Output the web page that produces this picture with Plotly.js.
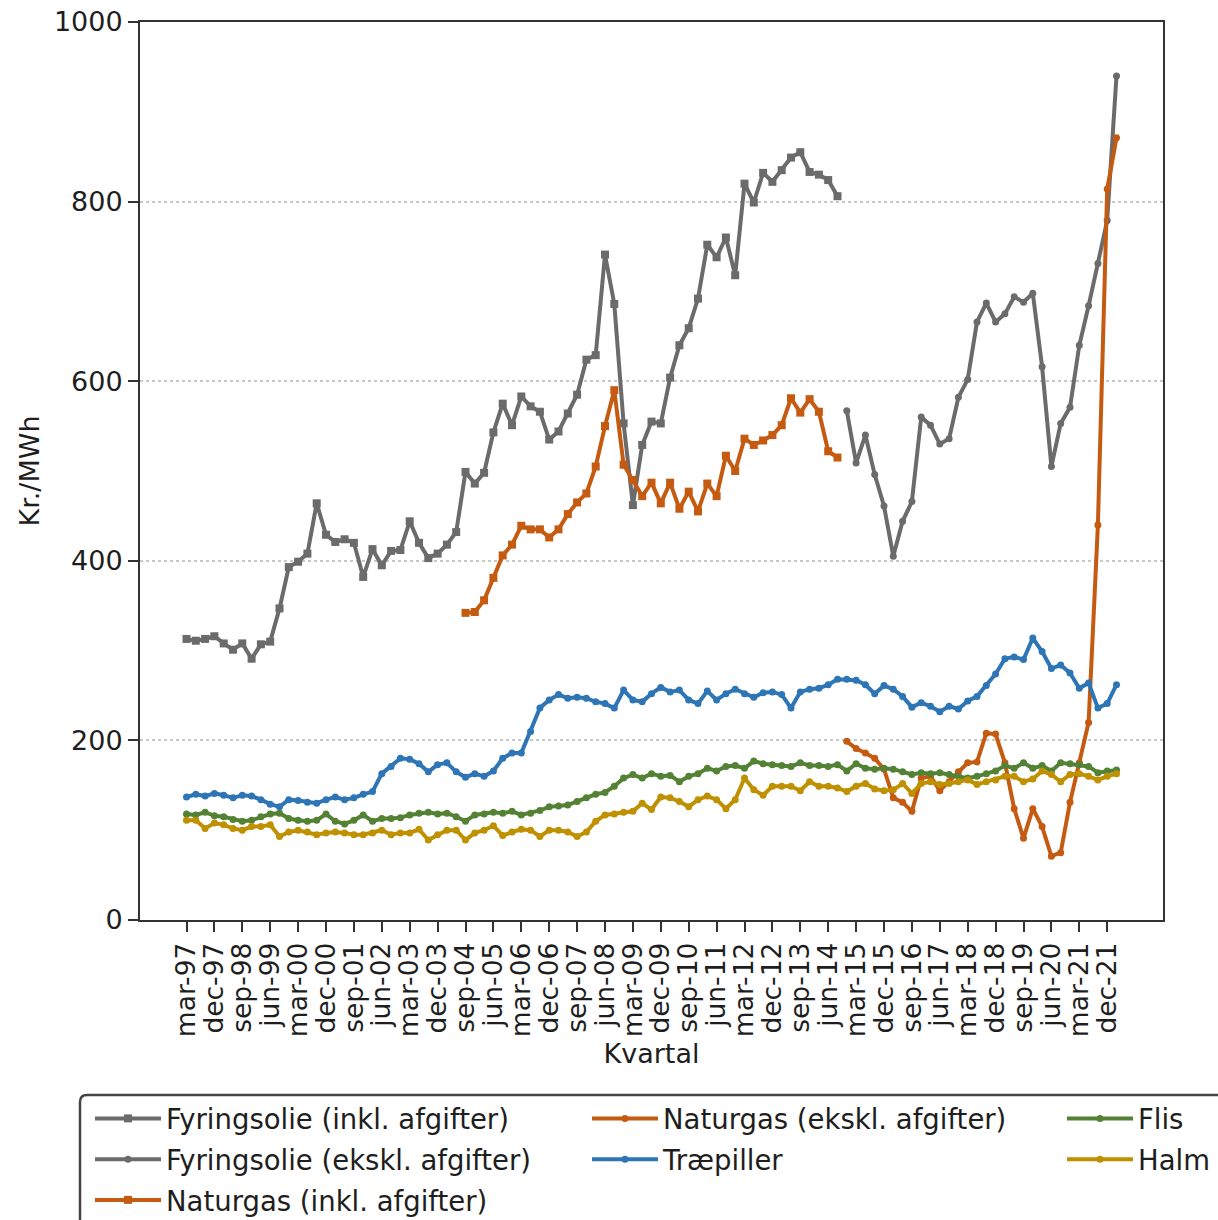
<!DOCTYPE html>
<html>
<head>
<meta charset="utf-8">
<script src="https://cdn.plot.ly/plotly-3.0.1.min.js"></script>
<style>
  html, body { margin: 0; padding: 0; background: #ffffff; }
  #chart { width: 1218px; height: 1220px; }
</style>
</head>
<body>
<div id="chart"></div>
<script>
// ---------- DATA ----------
const quarters = [
  'mar-97','jun-97','sep-97','dec-97','mar-98','jun-98','sep-98','dec-98',
  'mar-99','jun-99','sep-99','dec-99','mar-00','jun-00','sep-00','dec-00',
  'mar-01','jun-01','sep-01','dec-01','mar-02','jun-02','sep-02','dec-02',
  'mar-03','jun-03','sep-03','dec-03','mar-04','jun-04','sep-04','dec-04',
  'mar-05','jun-05','sep-05','dec-05','mar-06','jun-06','sep-06','dec-06',
  'mar-07','jun-07','sep-07','dec-07','mar-08','jun-08','sep-08','dec-08',
  'mar-09','jun-09','sep-09','dec-09','mar-10','jun-10','sep-10','dec-10',
  'mar-11','jun-11','sep-11','dec-11','mar-12','jun-12','sep-12','dec-12',
  'mar-13','jun-13','sep-13','dec-13','mar-14','jun-14','sep-14','dec-14',
  'mar-15','jun-15','sep-15','dec-15','mar-16','jun-16','sep-16','dec-16',
  'mar-17','jun-17','sep-17','dec-17','mar-18','jun-18','sep-18','dec-18',
  'mar-19','jun-19','sep-19','dec-19','mar-20','jun-20','sep-20','dec-20',
  'mar-21','jun-21','sep-21','dec-21','mar-22'
];

const tickLabels = [
  'mar-97','dec-97','sep-98','jun-99','mar-00','dec-00','sep-01','jun-02',
  'mar-03','dec-03','sep-04','jun-05','mar-06','dec-06','sep-07','jun-08',
  'mar-09','dec-09','sep-10','jun-11','mar-12','dec-12','sep-13','jun-14',
  'mar-15','dec-15','sep-16','jun-17','mar-18','dec-18','sep-19','jun-20',
  'mar-21','dec-21'
];

// Fyringsolie (inkl. afgifter): mar-97 .. sep-14
const fyrInklStart = 'mar-97';
const fyrInkl = [
  313,311,313,316,308,301,308,291,307,310,
  347,393,399,408,464,429,421,424,420,382,
  413,395,411,412,444,420,403,408,418,432,
  499,486,498,543,575,551,583,572,566,535,
  544,564,585,624,629,741,686,553,462,529,
  555,553,604,640,659,692,752,738,760,718,
  820,799,832,822,835,849,855,833,830,824,
  806
];

// Fyringsolie (ekskl. afgifter): dec-14 .. mar-22
const fyrEksklStart = 'dec-14';
const fyrEkskl = [
  567,509,540,496,461,405,444,466,560,551,
  530,536,582,602,666,687,666,675,694,688,
  698,616,505,553,571,640,684,731,779,940
];

// Naturgas (inkl. afgifter): sep-04 .. sep-14
const natInklStart = 'sep-04';
const natInkl = [
  342,343,356,381,406,418,439,435,435,426,
  435,452,465,475,505,550,590,507,490,472,
  487,464,487,458,477,455,486,472,517,500,
  536,529,534,540,551,581,565,580,566,522,
  515
];

// Naturgas (ekskl. afgifter): dec-14 .. mar-22
const natEksklStart = 'dec-14';
const natEkskl = [
  199,191,186,180,168,136,131,121,158,160,
  144,154,165,175,176,208,207,175,124,91,
  124,104,71,75,131,175,220,440,814,871
];

// Træpiller: mar-97 .. mar-22
const traepiller = [
  137,140,138,141,139,136,139,138,134,129,
  126,134,133,131,130,134,137,134,136,140,
  143,163,171,180,179,174,165,173,175,165,
  159,163,160,166,180,186,186,210,236,245,
  251,247,248,247,243,241,236,256,245,243,
  252,259,254,256,245,241,255,245,252,257,
  252,248,253,254,251,236,254,257,258,262,
  268,268,267,262,252,261,257,249,237,242,
  238,232,238,235,244,249,261,274,291,293,
  290,314,299,280,284,275,258,264,236,241,
  262
];

// Flis: mar-97 .. mar-22
const flis = [
  118,117,120,116,115,112,110,111,115,118,
  119,113,111,110,111,118,110,107,111,117,
  110,113,113,114,117,119,120,118,119,115,
  110,117,118,120,119,121,117,119,122,126,
  127,128,132,136,140,142,149,158,162,158,
  163,160,161,154,160,163,169,166,171,172,
  169,177,174,173,172,171,175,172,172,171,
  173,166,174,169,168,169,168,165,162,164,
  163,164,162,160,158,160,163,166,172,169,
  175,169,172,166,175,174,173,171,164,166,
  167
];

// Halm: mar-97 .. mar-22
const halm = [
  111,111,102,108,106,102,100,104,104,106,
  93,98,100,98,95,97,98,97,95,95,
  97,100,95,97,97,101,89,95,100,100,
  89,97,100,105,94,98,101,100,93,100,
  100,98,93,98,110,117,118,120,121,130,
  123,137,136,132,126,134,138,134,124,134,
  158,145,139,149,149,149,144,154,149,149,
  147,143,149,152,146,144,145,152,141,152,
  154,151,152,154,156,151,154,156,160,160,
  154,157,166,162,154,162,163,160,156,160,
  163
];

const seriesNames = [
  'Fyringsolie (inkl. afgifter)',
  'Fyringsolie (ekskl. afgifter)',
  'Naturgas (inkl. afgifter)',
  'Naturgas (ekskl. afgifter)',
  'Træpiller',
  'Flis',
  'Halm'
];

// ---------- STYLE ----------
const GRAY = '#6b6b6b', ORANGE = '#c55a11', BLUE = '#2e75b6', GREEN = '#548235', GOLD = '#bf9000';
const FONT = 'DejaVu Sans, Liberation Sans, sans-serif';
const TXT = '#1e1e1e';

function xFrom(startLabel, values) {
  const s = quarters.indexOf(startLabel);
  return quarters.slice(s, s + values.length);
}

function mk(name, x, y, color, symbol, size, legendId) {
  return {
    type: 'scatter', mode: 'lines+markers', name: name, x: x, y: y,
    line: { color: color, width: 4 },
    marker: { color: color, symbol: symbol, size: size },
    legend: legendId, legendgroup: name, showlegend: true,
    hoverinfo: 'x+y+name'
  };
}

const traces = [
  mk(seriesNames[0], xFrom(fyrInklStart, fyrInkl), fyrInkl, GRAY, 'square', 8, 'legend'),
  mk(seriesNames[1], xFrom(fyrEksklStart, fyrEkskl), fyrEkskl, GRAY, 'circle', 7, 'legend'),
  mk(seriesNames[2], xFrom(natInklStart, natInkl), natInkl, ORANGE, 'square', 8, 'legend'),
  mk(seriesNames[3], xFrom(natEksklStart, natEkskl), natEkskl, ORANGE, 'circle', 7, 'legend2'),
  mk(seriesNames[4], quarters, traepiller, BLUE, 'circle', 7, 'legend2'),
  mk(seriesNames[5], quarters, flis, GREEN, 'circle', 7, 'legend3'),
  mk(seriesNames[6], quarters, halm, GOLD, 'circle', 7, 'legend3')
];

// legend frame (rounded top-left corner; continues beyond page edges)
const W = 1218, H = 1220, ML = 140, MR = 55, MT = 22, MB = 300;
const PW = W - ML - MR, PH = H - MT - MB;
const px2x = p => (p - ML) / PW;
const py2y = p => (H - MB - p) / PH;
const bx0 = px2x(80), bx1 = px2x(1240), by0 = py2y(1095), by1 = py2y(1245);
const rx = 7 / PW, ry = 7 / PH;
const framePath = `M ${bx0},${by1} L ${bx0},${by0 - ry} Q ${bx0},${by0} ${bx0 + rx},${by0} L ${bx1},${by0}`;

const legendBase = {
  yanchor: 'top', xanchor: 'left', y: py2y(1094),
  bgcolor: 'rgba(0,0,0,0)', borderwidth: 0,
  itemwidth: 66, tracegroupgap: 2, traceorder: 'grouped',
  font: { family: FONT, size: 27.5, color: TXT }
};

const layout = {
  width: W, height: H,
  margin: { l: ML, r: MR, t: MT, b: MB, autoexpand: false },
  paper_bgcolor: '#ffffff', plot_bgcolor: '#ffffff',
  font: { family: FONT, size: 27, color: TXT },
  showlegend: true,
  xaxis: {
    type: 'category', categoryorder: 'array', categoryarray: quarters,
    range: [-5, 105],
    tickmode: 'array', tickvals: tickLabels, ticktext: tickLabels,
    tickangle: -90, ticks: 'outside', ticklen: 10, tickwidth: 2, tickcolor: '#333',
    showline: true, linecolor: '#333', linewidth: 2, mirror: true,
    showgrid: false, zeroline: false,
    tickfont: { family: FONT, size: 26.5, color: TXT },
    title: { text: 'Kvartal', standoff: 8, font: { family: FONT, size: 27, color: TXT } }
  },
  yaxis: {
    range: [0, 1000],
    tickmode: 'array', tickvals: [0, 200, 400, 600, 800, 1000],
    ticks: 'outside', ticklen: 10, tickwidth: 2, tickcolor: '#333',
    showline: true, linecolor: '#333', linewidth: 2, mirror: true,
    showgrid: true, gridcolor: '#c8c8c8', griddash: 'dot', gridwidth: 1.5,
    zeroline: false,
    tickfont: { family: FONT, size: 27, color: TXT },
    title: { text: 'Kr./MWh', standoff: 6, font: { family: FONT, size: 27, color: TXT } }
  },
  legend: Object.assign({}, legendBase, { x: px2x(90) }),
  legend2: Object.assign({}, legendBase, { x: px2x(587) }),
  legend3: Object.assign({}, legendBase, { x: px2x(1062) }),
  shapes: [{
    type: 'path', xref: 'paper', yref: 'paper', path: framePath,
    line: { color: '#444', width: 2.5 }, fillcolor: 'rgba(0,0,0,0)', layer: 'above'
  }]
};

Plotly.newPlot('chart', traces, layout, { displayModeBar: false, responsive: false });
</script>
</body>
</html>
